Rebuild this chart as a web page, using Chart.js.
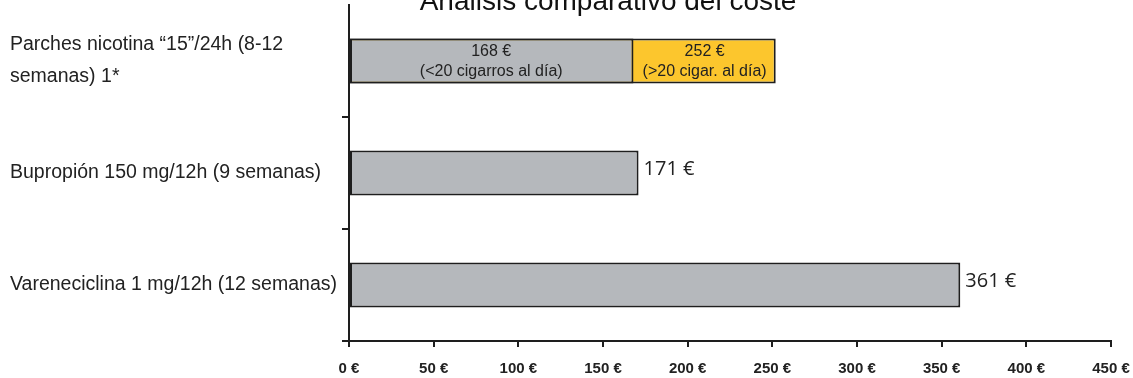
<!DOCTYPE html>
<html>
<head>
<meta charset="utf-8">
<script src="https://cdn.jsdelivr.net/npm/chart.js@4.4.1/dist/chart.umd.min.js"></script>
<style>
  html, body { margin: 0; padding: 0; background: #fff; }
  #wrap { width: 1133px; height: 378px; }
</style>
</head>
<body>
<div id="wrap"><canvas id="myChart"></canvas></div>
<script>
// Data
const chartTitle = "Análisis comparativo del coste";
const categories = [
  ["Parches nicotina \u201c15\u201d/24h (8-12", "semanas) 1*"],
  "Bupropión 150 mg/12h (9 semanas)",
  "Vareneciclina 1 mg/12h (12 semanas)"
];
const baseCost = [168, 171, 361];      // gray bars
const heavyCost = [252, null, null];   // yellow bar (>20 cigarros)
const baseNotes = ["(<20 cigarros al día)", null, null];
const heavyNotes = ["(>20 cigar. al día)", null, null];
const tickValues = [0, 50, 100, 150, 200, 250, 300, 350, 400, 450];

const gray = '#b5b8bc';
const yellow = '#fcc62d';
const dark = '#1e1e1e';

// Value labels: inside the bar when there is a note, right of the bar otherwise
const valueLabels = {
  id: 'valueLabels',
  afterDatasetsDraw(chart) {
    const ctx = chart.ctx;
    chart.data.datasets.forEach((ds, di) => {
      const meta = chart.getDatasetMeta(di);
      meta.data.forEach((bar, i) => {
        const v = ds.data[i];
        if (v == null) return;
        const note = ds.notes[i];
        ctx.save();
        ctx.fillStyle = '#222';
        if (note) {
          const startVal = di === 1 ? baseCost[i] : 0;
          const left = chart.scales.x.getPixelForValue(startVal);
          const cx = (left + bar.x) / 2;
          ctx.font = '16px "Liberation Sans", sans-serif';
          ctx.textAlign = 'center';
          ctx.textBaseline = 'middle';
          ctx.fillText(v + ' €', cx, bar.y - 9);
          ctx.fillText(note, cx, bar.y + 11);
        } else {
          ctx.font = '20px "Open Sans", sans-serif';
          ctx.textAlign = 'left';
          ctx.textBaseline = 'middle';
          ctx.fillText(v + ' €', bar.x + 5, bar.y - 4);
        }
        ctx.restore();
      });
    });
  }
};

// Title sits partly above the top edge of the picture
const topTitle = {
  id: 'topTitle',
  afterDraw(chart) {
    const ctx = chart.ctx;
    ctx.save();
    ctx.font = '28px "Liberation Sans", Arial, sans-serif';
    ctx.fillStyle = '#111';
    ctx.textAlign = 'center';
    ctx.textBaseline = 'alphabetic';
    ctx.fillText(chartTitle, 608, 10);
    ctx.restore();
  }
};

new Chart(document.getElementById('myChart'), {
  type: 'bar',
  data: {
    labels: categories,
    datasets: [
      {
        label: 'coste',
        data: baseCost,
        notes: baseNotes,
        backgroundColor: gray,
        borderColor: dark,
        borderWidth: 2,
        borderSkipped: false,
        grouped: false,
        order: 1,
        barPercentage: 0.4,
        categoryPercentage: 1
      },
      {
        label: 'coste >20',
        data: heavyCost,
        notes: heavyNotes,
        backgroundColor: yellow,
        borderColor: dark,
        borderWidth: 2,
        borderSkipped: false,
        grouped: false,
        order: 2,
        barPercentage: 0.4,
        categoryPercentage: 1
      }
    ]
  },
  options: {
    indexAxis: 'y',
    responsive: true,
    maintainAspectRatio: false,
    animation: false,
    layout: { padding: { top: 5, right: 22, left: 10, bottom: 0 } },
    plugins: {
      legend: { display: false },
      tooltip: { enabled: false },
      title: { display: false }
    },
    scales: {
      x: {
        min: 0,
        max: 450,
        afterBuildTicks: s => { s.ticks = tickValues.map(v => ({ value: v })); },
        border: { display: true, color: dark, width: 2 },
        grid: { drawOnChartArea: false, drawTicks: true, tickLength: 6, color: dark, lineWidth: 2 },
        ticks: {
          color: '#222',
          padding: 13,
          maxRotation: 0,
          font: { family: '"Liberation Sans", sans-serif', size: 15, weight: 'bold' },
          callback: v => v + ' €'
        },
        afterFit: s => { s.height = 37; s.paddingLeft = 0; s.paddingRight = 0; }
      },
      y: {
        border: { display: true, color: dark, width: 2 },
        grid: {
          drawOnChartArea: false,
          drawTicks: true,
          tickLength: 7,
          lineWidth: 2,
          color: c => (c.index === 0 ? 'rgba(0,0,0,0)' : dark)
        },
        ticks: {
          color: '#222',
          padding: 8,
          crossAlign: 'far',
          font: { family: '"Liberation Sans", sans-serif', size: 19.5, lineHeight: 1.65 }
        },
        afterFit: s => { s.width = 339; s.paddingTop = 0; s.paddingBottom = 0; }
      }
    }
  },
  plugins: [valueLabels, topTitle]
});
</script>
</body>
</html>
